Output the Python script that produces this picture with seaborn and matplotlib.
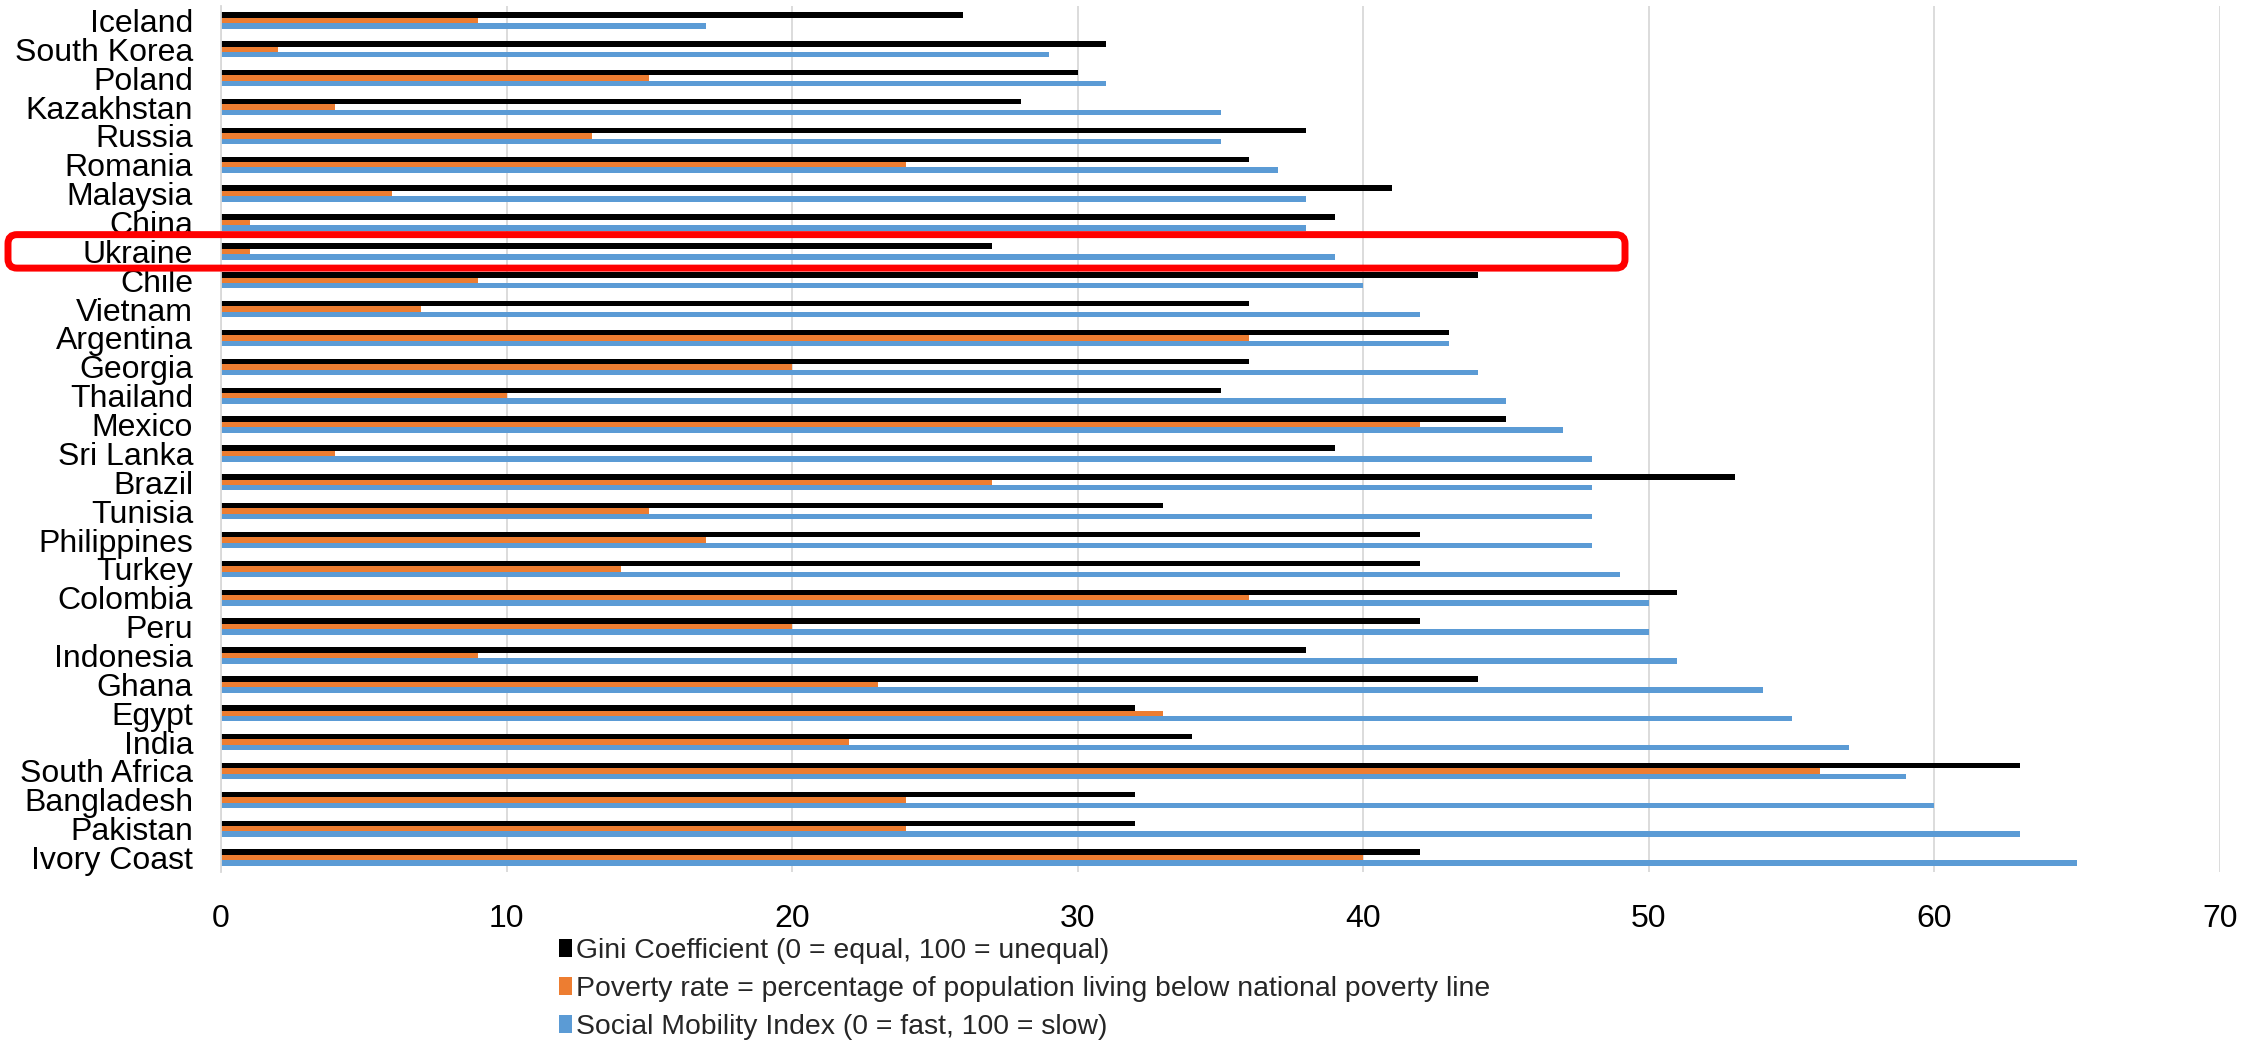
import numpy as np
import pandas as pd
import seaborn as sns
import matplotlib
matplotlib.use("Agg")
import matplotlib.pyplot as plt
from matplotlib.patches import Patch, FancyBboxPatch
from matplotlib.transforms import IdentityTransform

countries = [
    "Iceland", "South Korea", "Poland", "Kazakhstan", "Russia", "Romania",
    "Malaysia", "China", "Ukraine", "Chile", "Vietnam", "Argentina", "Georgia",
    "Thailand", "Mexico", "Sri Lanka", "Brazil", "Tunisia", "Philippines",
    "Turkey", "Colombia", "Peru", "Indonesia", "Ghana", "Egypt", "India",
    "South Africa", "Bangladesh", "Pakistan", "Ivory Coast",
]
gini = [26, 31, 30, 28, 38, 36, 41, 39, 27, 44, 36, 43, 36, 35, 45, 39, 53,
        33, 42, 42, 51, 42, 38, 44, 32, 34, 63, 32, 32, 42]
poverty = [9, 2, 15, 4, 13, 24, 6, 1, 1, 9, 7, 36, 20, 10, 42, 4, 27, 15, 17,
           14, 36, 20, 9, 23, 33, 22, 56, 24, 24, 40]
mobility = [17, 29, 31, 35, 35, 37, 38, 38, 39, 40, 42, 43, 44, 45, 47, 48, 48,
            48, 48, 49, 50, 50, 51, 54, 55, 57, 59, 60, 63, 65]

series_names = [
    "Gini Coefficient (0 = equal, 100 = unequal)",
    "Poverty rate = percentage of population living below national poverty line",
    "Social Mobility Index (0 = fast, 100 = slow)",
]
series_colors = ["#000000", "#ED7D31", "#5B9BD5"]
x_ticks = [0, 10, 20, 30, 40, 50, 60, 70]
highlight = "Ukraine"

df = pd.DataFrame({
    "country": countries * 3,
    "value": gini + poverty + mobility,
    "series": [series_names[0]] * len(countries)
    + [series_names[1]] * len(countries)
    + [series_names[2]] * len(countries),
})

sns.set_theme(style="white")
plt.rcParams["font.family"] = ["Liberation Sans", "DejaVu Sans"]

W, H, DPI = 2268, 1040, 100
fig = plt.figure(figsize=(W / DPI, H / DPI), dpi=DPI)
ax = fig.add_axes([221 / W, 1 - 872 / H, (2220 - 221) / W, (872 - 6) / H])

sns.barplot(
    data=df, x="value", y="country", hue="series", orient="h",
    order=countries, hue_order=series_names, palette=series_colors,
    width=0.565, gap=0, saturation=1, linewidth=0, legend=False, ax=ax,
)

ax.set_xlim(0, 70)
ax.set_xticks(x_ticks)
ax.set_xticklabels([str(t) for t in x_ticks])
ax.set_xlabel("")
ax.set_ylabel("")
ax.xaxis.grid(True, color="#D9D9D9", linewidth=1.3)
ax.yaxis.grid(False)
ax.set_axisbelow(True)
for side in ["top", "right", "bottom"]:
    ax.spines[side].set_visible(False)
ax.spines["left"].set_color("#D9D9D9")
ax.spines["left"].set_linewidth(1.3)
ax.tick_params(axis="x", length=0, pad=23, labelsize=23, labelcolor="black")
ax.tick_params(axis="y", length=0, pad=20, labelsize=23, labelcolor="black")

# Legend below the plot
handles = [Patch(facecolor=c, edgecolor="none") for c in series_colors]
fig.legend(
    handles, series_names, loc="upper left",
    bbox_to_anchor=(559 / W, 1 - 938 / H), frameon=False,
    fontsize=20.4, handlelength=0.45, handleheight=0.6, handletextpad=0.15,
    labelspacing=0.42, borderpad=0, borderaxespad=0,
)

# Rounded red frame around the highlighted row
idx = countries.index(highlight)
_, y_top = ax.transData.transform((0, idx - 0.58))
_, y_bot = ax.transData.transform((0, idx + 0.58))
y0, y1 = min(y_top, y_bot), max(y_top, y_bot)
frame = FancyBboxPatch(
    (8, y0), 1625 - 8, y1 - y0,
    boxstyle="round,pad=0,rounding_size=9",
    transform=IdentityTransform(), fill=False, edgecolor="#FF0000",
    linewidth=5.0, clip_on=False, zorder=10,
)
fig.patches.append(frame)

fig.savefig("out.png", dpi=DPI)
